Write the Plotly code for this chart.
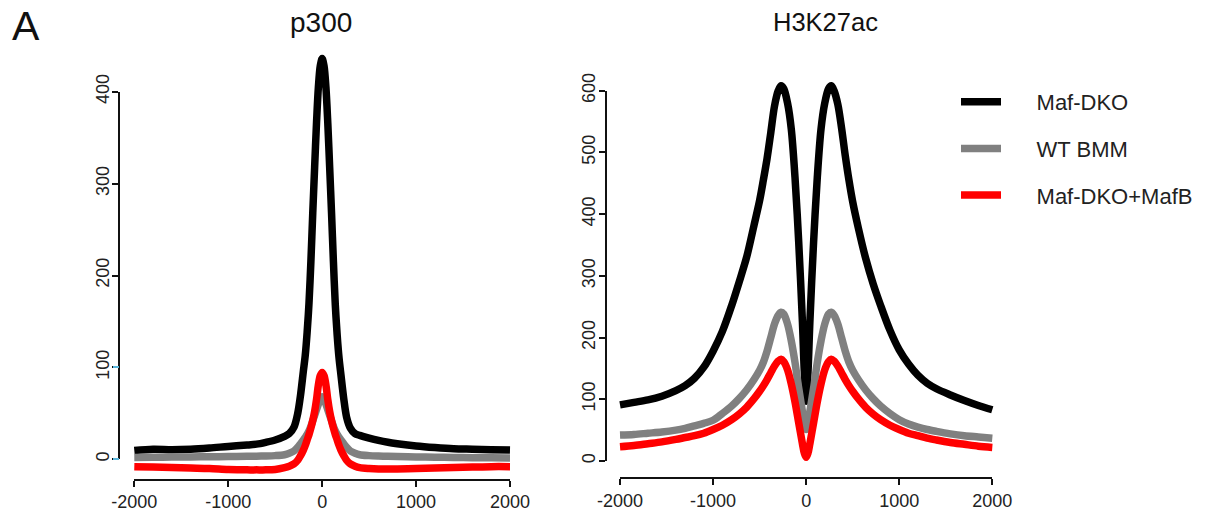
import plotly.graph_objects as go

W, H = 1231, 514
OFF = 8  # page body margin in the browser

# ---------------- data ----------------
series_names = ["Maf-DKO", "WT BMM", "Maf-DKO+MafB"]
series_colors = ["#000000", "#808080", "#ff0000"]

p300_pos = [-2000, -1800, -1600, -1400, -1200, -1000, -800, -700, -600, -500, -400, -350, -300,
            -260, -230, -200, -180, -160, -140, -120, -100, -80, -60, -40, -20, 0,
            20, 40, 60, 80, 100, 120, 140, 160, 180, 200, 230, 260, 300, 350, 400,
            500, 600, 700, 800, 1000, 1200, 1400, 1600, 1800, 2000]
p300_maf_dko = [9.5, 11, 10.5, 11, 12.3, 14, 15.5, 16.5, 18.5, 21, 25, 28, 35,
                50, 70, 96, 113, 138, 170, 215, 268, 318, 366, 405, 428, 436,
                428, 405, 366, 318, 268, 215, 168, 135, 110, 92, 66, 46, 34, 28, 26,
                23, 20.5, 18.5, 17, 14.5, 12.8, 11.5, 11, 10.5, 10]
p300_wt_bmm = [2, 2.2, 2.4, 2.6, 2.8, 3, 3.2, 3.4, 3.6, 4, 5, 6.5, 9,
               13, 17, 21, 24, 27, 31, 36, 42, 48, 54, 60, 65, 68,
               65, 60, 54, 48, 42, 36, 31, 27, 24, 21, 17, 13, 9, 6.5, 5,
               4, 3.5, 3.2, 3, 2.5, 2.3, 2, 1.8, 1.6, 1.5]
p300_maf_dko_mafb = [-8, -8.5, -9, -9.5, -10, -11, -11.5, -11.5, -11.5, -11, -9, -7.5, -5,
                     -1, 4, 10, 15, 21, 27, 34, 42, 52, 65, 81, 91, 94.5,
                     91, 81, 65, 52, 42, 34, 27, 21, 15, 10, 4, -1, -5, -7.5, -9,
                     -10, -10.5, -10.5, -10.5, -10, -9.5, -9, -8.5, -8, -8]

h3_pos = [-2000, -1850, -1700, -1550, -1400, -1300, -1200, -1100, -1000, -900, -800, -720,
          -640, -560, -500, -460, -420, -380, -340, -300, -270, -240, -200, -160, -120,
          -80, -40, -20, 0, 20, 40, 80, 120, 160, 200, 240, 270, 300, 340, 380, 420, 460,
          500, 560, 640, 720, 800, 900, 1000, 1100, 1200, 1300, 1400, 1550, 1700, 1850, 2000]
h3_maf_dko = [91, 95, 99, 105, 114, 122, 134, 152, 178, 210, 252, 290,
              330, 382, 422, 455, 490, 532, 575, 600, 608, 603, 580, 538, 460,
              355, 225, 145, 97, 145, 225, 355, 460, 538, 580, 603, 608, 600, 578, 540, 495, 455,
              420, 378, 328, 287, 252, 212, 180, 157, 139, 126, 117, 107, 98, 90, 83]
h3_wt_bmm = [42, 43, 45, 47, 50, 53, 57, 61, 66, 77, 89, 101,
             115, 132, 147, 160, 178, 200, 222, 236, 241, 238, 222, 195, 160,
             118, 80, 60, 51, 60, 80, 118, 160, 195, 222, 238, 241, 236, 222, 200, 178, 160,
             147, 132, 115, 101, 89, 77, 67, 60, 55, 51, 48, 44, 41, 39, 37]
h3_maf_dko_mafb = [23, 25, 28, 31, 35, 38, 41, 45, 51, 58, 67, 76,
                   87, 101, 113, 122, 132, 143, 154, 162, 165, 161, 148, 125, 96,
                   62, 28, 13, 6, 13, 28, 62, 96, 125, 148, 161, 165, 162, 154, 143, 132, 122,
                   113, 101, 87, 76, 67, 58, 51, 45, 41, 37, 34, 30, 27, 24, 22]

x_ticks = [-2000, -1000, 0, 1000, 2000]
x_tick_labels = ["-2000", "-1000", "0", "1000", "2000"]
p300_yticks = [0, 100, 200, 300, 400]
h3_yticks = [0, 100, 200, 300, 400, 500, 600]

titles = ["p300", "H3K27ac"]
panel_label = "A"

# ---------------- helpers (layout geometry, screen pixels -> paper) ----------------
def fx(px):
    return (px - OFF) / W


def fy(px):
    return 1 - (px - OFF) / H


def data_axes(x_lo_px, x_hi_px, x_m2000, x_p2000, y_top_px, y_bot_px, y0_px, ytop_px, ytop_val):
    sx = (x_p2000 - x_m2000) / 4000.0
    x_lo = -2000 - (x_m2000 - x_lo_px) / sx
    x_hi = 2000 + (x_hi_px - x_p2000) / sx
    sy = (y0_px - ytop_px) / ytop_val
    y_hi = (y0_px - y_top_px) / sy
    y_lo = (y0_px - y_bot_px) / sy
    return [x_lo, x_hi], [y_lo, y_hi]


FONT = "Liberation Sans, Arial, sans-serif"
TICKFONT = dict(family=FONT, size=18, color="#222222")
hidden = dict(showline=False, showticklabels=False, ticks="", showgrid=False, zeroline=False,
              automargin=False)

# panel geometry in screen pixels
L = dict(xm=134.3, xp=510.0, y0=459.3, ytop=91.7, yval=400, yaxis_x=119.0, xaxis_y=480.0,
         dx0=124, dx1=520, dy0=44, dy1=478)
R = dict(xm=620.0, xp=992.3, y0=461.0, ytop=90.7, yval=600, yaxis_x=606.0, xaxis_y=478.3,
         dx0=610, dx1=1002, dy0=72, dy1=474)

fig = go.Figure()

pad = "\u00a0" * 5
panels = [
    ("x", "y", p300_pos, [p300_maf_dko, p300_wt_bmm, p300_maf_dko_mafb], False),
    ("x2", "y2", h3_pos, [h3_maf_dko, h3_wt_bmm, h3_maf_dko_mafb], True),
]
for xa, ya, pos, ys, showleg in panels:
    for name, col, vals in zip(series_names, series_colors, ys):
        fig.add_trace(go.Scatter(
            x=pos, y=vals, mode="lines", name=pad + name,
            line=dict(color=col, width=7.5, shape="spline", smoothing=0.9),
            xaxis=xa, yaxis=ya, showlegend=showleg, legendgroup=name,
            hoverinfo="skip",
        ))

# empty traces to instantiate the visible tick-axis subplots
for xa, ya in [("x3", "y3"), ("x4", "y4"), ("x3", "y5")]:
    fig.add_trace(go.Scatter(x=[None], y=[None], xaxis=xa, yaxis=ya, showlegend=False,
                             hoverinfo="skip", mode="lines"))

lxr, lyr = data_axes(L["dx0"], L["dx1"], L["xm"], L["xp"], L["dy0"], L["dy1"], L["y0"], L["ytop"], L["yval"])
rxr, ryr = data_axes(R["dx0"], R["dx1"], R["xm"], R["xp"], R["dy0"], R["dy1"], R["y0"], R["ytop"], R["yval"])

axis_vis = dict(showline=True, linecolor="#111111", linewidth=1.6, ticks="outside", ticklen=6,
                tickwidth=1.6, tickcolor="#111111", showgrid=False, zeroline=False,
                tickfont=TICKFONT, automargin=False)

fig.update_layout(
    width=W, height=H, margin=dict(l=0, r=0, t=0, b=0, pad=0), autosize=False,
    paper_bgcolor="white", plot_bgcolor="rgba(0,0,0,0)",
    # hidden data axes
    xaxis=dict(domain=[fx(L["dx0"]), fx(L["dx1"])], range=lxr, anchor="y", **hidden),
    yaxis=dict(domain=[fy(L["dy1"]), fy(L["dy0"])], range=lyr, anchor="x", **hidden),
    xaxis2=dict(domain=[fx(R["dx0"]), fx(R["dx1"])], range=rxr, anchor="y2", **hidden),
    yaxis2=dict(domain=[fy(R["dy1"]), fy(R["dy0"])], range=ryr, anchor="x2", **hidden),
    # visible tick axes
    xaxis3=dict(domain=[fx(L["xm"]), fx(L["xp"])], range=[-2000, 2000], anchor="free",
                position=fy(L["xaxis_y"]), tickvals=x_ticks, ticktext=x_tick_labels, **axis_vis),
    yaxis3=dict(domain=[fy(L["y0"]), fy(L["ytop"])], range=[0, 400], anchor="free",
                position=fx(L["yaxis_x"]), tickvals=p300_yticks, tickangle=-90,
                ticklabelstandoff=-4, **axis_vis),
    yaxis5=dict(overlaying="y3", range=[0, 400], anchor="free", position=fx(L["yaxis_x"]),
                tickvals=[0, 100], ticks="outside", ticklen=6, tickwidth=1.6,
                tickcolor="#5bb7dd", showline=False, showticklabels=False,
                showgrid=False, zeroline=False, automargin=False),
    xaxis4=dict(domain=[fx(R["xm"]), fx(R["xp"])], range=[-2000, 2000], anchor="free",
                position=fy(R["xaxis_y"]), tickvals=x_ticks, ticktext=x_tick_labels, **axis_vis),
    yaxis4=dict(domain=[fy(R["y0"]), fy(R["ytop"])], range=[0, 600], anchor="free",
                position=fx(R["yaxis_x"]), tickvals=h3_yticks, tickangle=-90,
                ticklabelstandoff=-3, **axis_vis),
    legend=dict(x=fx(956), xanchor="left", y=fy(81), yanchor="top",
                font=dict(family=FONT, size=22, color="#222222"),
                itemwidth=40, tracegroupgap=15, traceorder="grouped",
                bgcolor="rgba(0,0,0,0)"),
    showlegend=True,
)

annos = [
    dict(text=titles[0], x=fx(321), y=fy(22), xanchor="center", yanchor="middle",
         font=dict(size=28, family=FONT, color="#111111")),
    dict(text=titles[1], x=fx(825), y=fy(22), xanchor="center", yanchor="middle",
         font=dict(size=25.5, family=FONT, color="#111111")),
    dict(text=panel_label, x=fx(10), y=fy(26), xanchor="left", yanchor="middle",
         font=dict(size=41, family=FONT, color="#111111")),
]
for a in annos:
    fig.add_annotation(xref="paper", yref="paper", showarrow=False, **a)

fig.write_html("out.html")
